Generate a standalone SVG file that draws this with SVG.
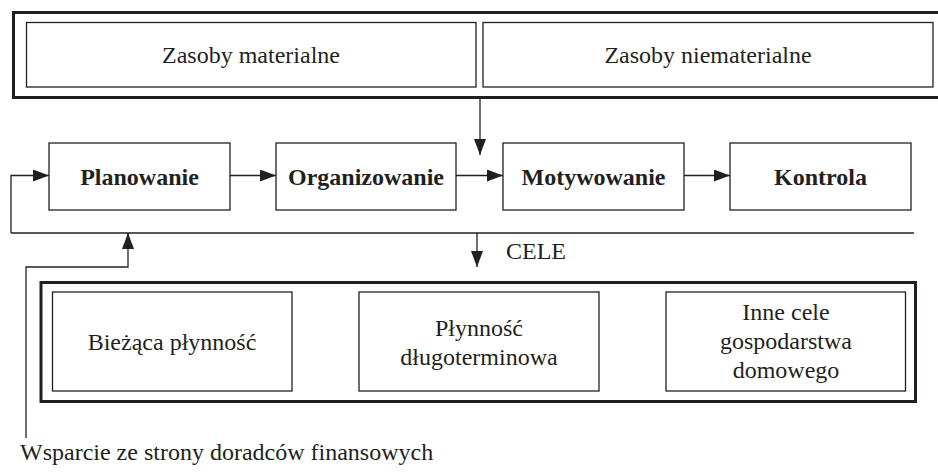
<svg xmlns="http://www.w3.org/2000/svg" width="938" height="472" viewBox="0 0 938 472">
<defs>
<marker id="ah" viewBox="0 0 16 12" refX="16" refY="6" markerWidth="16" markerHeight="12" markerUnits="userSpaceOnUse" orient="auto">
<path d="M0,0 L16,6 L0,12 Z" fill="#231f20"/>
</marker>
<style>
.frame{fill:none;stroke:#231f20;stroke-width:3}
.box{fill:#fff;stroke:#231f20;stroke-width:1.3}
.ln{fill:none;stroke:#231f20;stroke-width:1.3}
.arr{fill:none;stroke:#231f20;stroke-width:1.3;marker-end:url(#ah)}
text{font-family:"Liberation Serif","Times New Roman",serif;font-size:24px;fill:#231f20}
.c{text-anchor:middle}
.b{font-weight:bold}
</style>
</defs>
<g id="resources">
<path class="frame" d="M945,12.5 H13.5 V97.5 H945"/>
<g id="zasoby-materialne"><rect class="box" x="26.5" y="22.5" width="449.5" height="64.5"/><text class="c" x="251" y="63">Zasoby materialne</text></g>
<g id="zasoby-niematerialne"><rect class="box" x="483" y="22.5" width="450" height="64.5"/><text class="c" x="708" y="63">Zasoby niematerialne</text></g>
</g>
<g id="planowanie"><rect class="box" x="49" y="143" width="181" height="67"/><text class="c b" x="139.5" y="184.5">Planowanie</text></g>
<g id="organizowanie"><rect class="box" x="276" y="143" width="180" height="67"/><text class="c b" x="366" y="184.5">Organizowanie</text></g>
<g id="motywowanie"><rect class="box" x="503" y="143" width="181" height="67"/><text class="c b" x="593.5" y="184.5">Motywowanie</text></g>
<g id="kontrola"><rect class="box" x="730" y="143" width="181" height="67"/><text class="c b" x="820.5" y="184.5">Kontrola</text></g>
<g id="cele">
<text x="506" y="259">CELE</text>
<rect class="frame" x="41" y="282.5" width="874.5" height="119"/>
<g id="biezaca"><rect class="box" x="52.5" y="292" width="239.5" height="99"/><text class="c" x="172" y="350">Bieżąca płynność</text></g>
<g id="dlugoterminowa"><rect class="box" x="359" y="292" width="240" height="99"/><text class="c" x="479" y="336">Płynność</text><text class="c" x="479" y="365">długoterminowa</text></g>
<g id="inne"><rect class="box" x="666" y="292" width="239.5" height="99"/><text class="c" x="786" y="320">Inne cele</text><text class="c" x="786" y="349">gospodarstwa</text><text class="c" x="786" y="378">domowego</text></g>
</g>
<g id="wsparcie"><text x="20" y="460">Wsparcie ze strony doradców finansowych</text></g>
<g id="connectors">
<path class="arr" d="M480,98 V155"/>
<path class="arr" d="M230,175.5 H276"/>
<path class="arr" d="M456,175.5 H503"/>
<path class="arr" d="M684,175.5 H730"/>
<path class="ln" d="M11,233 H914"/>
<path class="arr" d="M11,233 V175.5 H49"/>
<path class="arr" d="M477,233 V267"/>
<path class="arr" d="M26,438 V267 H128 V233"/>
</g>
</svg>
